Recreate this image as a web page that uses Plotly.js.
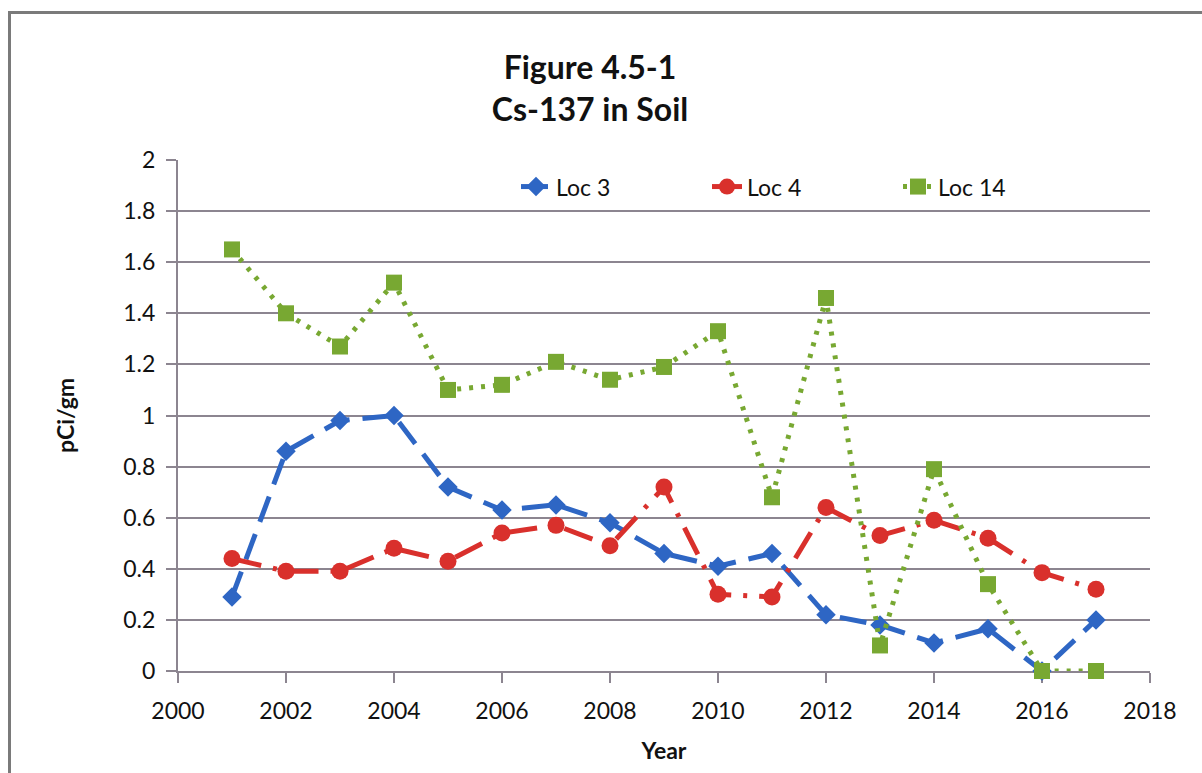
<!DOCTYPE html>
<html>
<head>
<meta charset="utf-8">
<script src="https://cdn.plot.ly/plotly-3.0.1.min.js"></script>
<style>
  html, body { margin: 0; padding: 0; background: #ffffff; }
  #wrap { position: relative; width: 1202px; height: 773px; overflow: hidden; }
  #chart { position: absolute; left: 0; top: 0; width: 1202px; height: 773px; }
  #frame { position: absolute; left: 8px; top: 11px; width: 1300px; height: 900px;
           border-left: 3px solid #7a7a7a; border-top: 3px solid #7a7a7a; pointer-events: none; }
</style>
</head>
<body>
<div id="wrap">
  <div id="chart"></div>
  <div id="frame"></div>
</div>
<script>
const years = [2001, 2002, 2003, 2004, 2005, 2006, 2007, 2008, 2009, 2010, 2011, 2012, 2013, 2014, 2015, 2016, 2017];
const loc3 = [0.29, 0.86, 0.98, 1.00, 0.72, 0.63, 0.65, 0.58, 0.46, 0.41, 0.46, 0.22, 0.18, 0.11, 0.165, 0.0, 0.20];
const loc4 = [0.44, 0.39, 0.39, 0.48, 0.43, 0.54, 0.57, 0.49, 0.72, 0.30, 0.29, 0.64, 0.53, 0.59, 0.52, 0.385, 0.32];
const loc14 = [1.65, 1.40, 1.27, 1.52, 1.10, 1.12, 1.21, 1.14, 1.19, 1.33, 0.68, 1.46, 0.10, 0.79, 0.34, 0.0, 0.0];
const seriesNames = ['Loc 3', 'Loc 4', 'Loc 14'];
const yTicks = [0, 0.2, 0.4, 0.6, 0.8, 1, 1.2, 1.4, 1.6, 1.8, 2];
const yTickText = ['0', '0.2', '0.4', '0.6', '0.8', '1', '1.2', '1.4', '1.6', '1.8', '2'];
const xTicks = [2000, 2002, 2004, 2006, 2008, 2010, 2012, 2014, 2016, 2018];

const FONT = 'Lato, "Open Sans", "DejaVu Sans", sans-serif';

const traces = [
  {
    x: years, y: loc3, name: seriesNames[0], type: 'scatter', mode: 'lines+markers', cliponaxis: false,
    line: { color: '#2e66c4', width: 5, dash: '27px,13px' },
    marker: { symbol: 'diamond', size: 15, color: '#2e66c4' }
  },
  {
    x: years, y: loc4, name: seriesNames[1], type: 'scatter', mode: 'lines+markers', cliponaxis: false,
    line: { color: '#d9302c', width: 5, dash: '30px,12px,4px,12px' },
    marker: { symbol: 'circle', size: 17, color: '#d9302c' }
  },
  {
    x: years, y: loc14, name: seriesNames[2], type: 'scatter', mode: 'lines+markers', cliponaxis: false,
    line: { color: '#78a832', width: 5, dash: '4px,8px' },
    marker: { symbol: 'square', size: 16, color: '#78a832' }
  }
];

const layout = {
  width: 1202, height: 773,
  paper_bgcolor: '#ffffff', plot_bgcolor: '#ffffff',
  margin: { l: 178, r: 52, t: 160, b: 102 },
  font: { family: FONT, color: '#111111', size: 23 },
  title: {
    text: '<b>Figure 4.5-1</b><br><b>Cs-137 in Soil</b>',
    x: 590 / 1202, xref: 'container', xanchor: 'center',
    y: 1 - 79 / 773, yref: 'container', yanchor: 'middle',
    font: { family: FONT, size: 32, color: '#111111' }
  },
  showlegend: true,
  legend: {
    orientation: 'h', x: (516 - 178) / 972, xanchor: 'left', y: 0.99, yanchor: 'top',
    font: { family: FONT, size: 23, color: '#111111' },
    bgcolor: 'rgba(255,255,255,0)', entrywidth: 146, entrywidthmode: 'pixels', tracegroupgap: 0
  },
  xaxis: {
    range: [2000, 2018], tickvals: xTicks, ticktext: xTicks.map(String),
    showgrid: false, zeroline: false,
    showline: true, linecolor: '#8c8590', linewidth: 2, layer: 'below traces',
    ticks: 'outside', ticklen: 10, tickwidth: 2, tickcolor: '#8c8590',
    ticklabelstandoff: 8,
    tickfont: { family: FONT, size: 23, color: '#111111' },
    title: { text: '<b>Year</b>', font: { family: FONT, size: 23, color: '#111111' }, standoff: 20 }
  },
  yaxis: {
    range: [0, 2], tickvals: yTicks, ticktext: yTickText,
    showgrid: true, gridcolor: '#8c8590', gridwidth: 2,
    zeroline: false,
    showline: true, linecolor: '#8c8590', linewidth: 2, layer: 'below traces',
    ticks: 'outside', ticklen: 10, tickwidth: 2, tickcolor: '#8c8590',
    ticklabelstandoff: 6,
    tickfont: { family: FONT, size: 23, color: '#111111' },
    title: { text: '<b>pCi/gm</b>', font: { family: FONT, size: 23, color: '#111111' }, standoff: 42 }
  }
};

Plotly.newPlot('chart', traces, layout, { staticPlot: true, displayModeBar: false });
</script>
</body>
</html>
